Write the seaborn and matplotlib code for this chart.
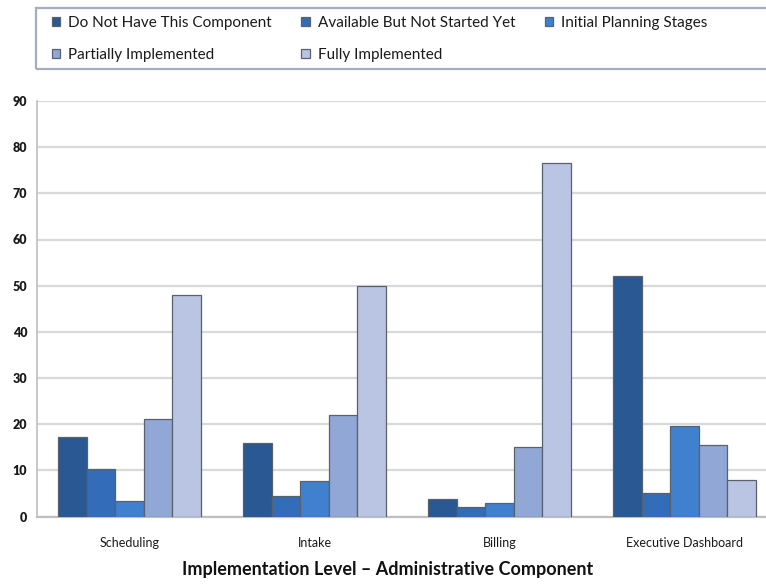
import matplotlib
matplotlib.use("Agg")
import matplotlib.pyplot as plt
from matplotlib.patches import Rectangle
import seaborn as sns
import pandas as pd

components = ["Scheduling", "Intake", "Billing", "Executive Dashboard"]
levels = [
    "Do Not Have This Component",
    "Available But Not Started Yet",
    "Initial Planning Stages",
    "Partially Implemented",
    "Fully Implemented",
]
do_not_have = [17.3, 16.0, 3.8, 52.1]
available_not_started = [10.3, 4.4, 2.1, 5.0]
initial_planning = [3.4, 7.6, 2.9, 19.7]
partially_implemented = [21.1, 21.9, 15.0, 15.5]
fully_implemented = [48.0, 49.9, 76.5, 7.9]
y_ticks = [0, 10, 20, 30, 40, 50, 60, 70, 80, 90]

colors = ["#2A5893", "#336DBA", "#3F80CF", "#91A8D7", "#BAC4E3"]

series = [do_not_have, available_not_started, initial_planning,
          partially_implemented, fully_implemented]
rows = []
for lvl, vals in zip(levels, series):
    for comp, v in zip(components, vals):
        rows.append({"Component": comp, "Level": lvl, "Percent": v})
df = pd.DataFrame(rows)

sns.set_theme(style="white")
plt.rcParams["font.family"] = ["Lato", "DejaVu Sans"]

W, H = 766, 587
fig = plt.figure(figsize=(W / 100, H / 100), dpi=100)
ax_left, ax_right, ax_top, ax_bottom = 37, 777, 101, 516.5
ax = fig.add_axes([ax_left / W, (H - ax_bottom) / H,
                   (ax_right - ax_left) / W, (ax_bottom - ax_top) / H])

sns.barplot(data=df, x="Component", y="Percent", hue="Level",
            hue_order=levels, order=components, palette=colors,
            width=0.77, edgecolor="#59616C", linewidth=0.9,
            saturation=1, ax=ax, legend=True, zorder=3)

ax.set_xlim(-0.5, 3.5)
ax.set_ylim(0, 90)
ax.set_yticks(y_ticks)
ax.yaxis.grid(True, color="#D9D9D9", linewidth=1.6, zorder=0)
ax.set_axisbelow(True)
for side in ["top", "right"]:
    ax.spines[side].set_visible(False)
ax.spines["left"].set_color("#BFBFBF")
ax.spines["left"].set_linewidth(1.2)
ax.spines["bottom"].set_color("#BFBFBF")
ax.spines["bottom"].set_linewidth(1.6)
ax.tick_params(axis="both", length=0)
ax.tick_params(axis="y", pad=7, labelsize=9)
ax.tick_params(axis="x", pad=15, labelsize=9)
for t in ax.get_yticklabels():
    t.set_fontweight("heavy")
    t.set_color("#1A1A1A")
for t in ax.get_xticklabels():
    t.set_color("#1A1A1A")
ax.set_xlabel("")
ax.set_ylabel("")

fig.text(388 / W, 1 - 569 / H, "Implementation Level \u2013 Administrative Component",
         ha="center", va="center", fontsize=13, fontweight="bold", color="#111111")

# legend: entries reordered so rows read left to right
handles, labels = ax.get_legend_handles_labels()
ax.get_legend().remove()
order = [0, 3, 1, 4, 2]
fig.legend([handles[i] for i in order], [labels[i] for i in order],
           ncol=3, loc="upper left", bbox_to_anchor=(52 / W, 1 - 16 / H),
           frameon=False, fontsize=11, handlelength=0.55, handleheight=0.55,
           handletextpad=0.5, columnspacing=1.95, labelspacing=1.15,
           borderpad=0, borderaxespad=0, labelcolor="#1A1A1A")
fig.patches.append(Rectangle((36 / W, 1 - 69 / H), (800 - 36) / W, (69 - 8) / H,
                             transform=fig.transFigure, fill=False,
                             edgecolor="#A3ADBD", linewidth=1.6))

fig.savefig("out.png", dpi=100, facecolor="white")
